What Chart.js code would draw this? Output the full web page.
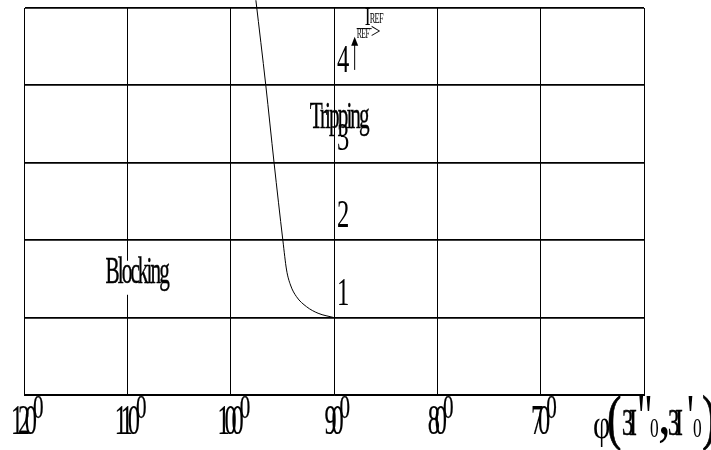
<!DOCTYPE html>
<html>
<head>
<meta charset="utf-8">
<script src="https://cdn.jsdelivr.net/npm/chart.js@4/dist/chart.umd.min.js"></script>
<style>
  html, body { margin: 0; padding: 0; background: #fff; }
  #wrap { width: 711px; height: 450px; }
</style>
</head>
<body>
<div id="wrap"><canvas id="chart" width="711" height="450"></canvas></div>
<script>
// angle axis (degrees), drawn right to left
const xTicks = [120, 110, 100, 90, 80, 70];
const xTickLabels = ['120', '110', '100', '90', '80', '70'];
// ratio axis
const yTicks = [1, 2, 3, 4];
const yTickLabels = ['1', '2', '3', '4'];

// boundary between blocking and tripping
const curveAngle = [97.56, 96.6, 95.8, 94.95, 94.59, 94.21, 93.63, 92.66, 91.54, 90.0];
const curveRatio = [5.1, 4.0, 3.0, 2.0, 1.615, 1.421, 1.27, 1.141, 1.056, 1.0];

const FONT = '"Liberation Serif", "Times New Roman", serif';

// narrow serif text, the way the old plot software rendered it
function squish(ctx, text, x, y, size, sx, spacing, align, heavy) {
  ctx.save();
  ctx.font = size + 'px ' + FONT;
  ctx.letterSpacing = (spacing || 0) + 'px';
  ctx.textBaseline = 'alphabetic';
  ctx.textAlign = 'left';
  let w = ctx.measureText(text).width * sx;
  if (spacing) w -= spacing * sx; // no trailing gap
  let left = x;
  if (align === 'center') left = x - w / 2;
  if (align === 'right') left = x - w;
  ctx.translate(left, y);
  ctx.scale(sx, 1);
  ctx.fillStyle = '#000';
  ctx.fillText(text, 0, 0);
  if (heavy) {
    ctx.strokeStyle = '#000';
    ctx.lineWidth = heavy;
    ctx.strokeText(text, 0, 0);
  }
  ctx.restore();
  return { left: left, right: left + w };
}

const labelsPlugin = {
  id: 'labels',
  afterDraw(chart) {
    const ctx = chart.ctx;
    const xs = chart.scales.x, ys = chart.scales.y;
    const area = chart.chartArea;

    // degree tick labels under the grid
    xTicks.forEach((v, i) => {
      const px = xs.getPixelForValue(v);
      const r = squish(ctx, xTickLabels[i], px, area.bottom + 39, 42, 0.58, -9, 'center', 0.2);
      squish(ctx, '0', r.right - 4, area.bottom + 23, 33, 0.64, 0, null, 0.3);
    });

    // ratio labels next to the 90 degree line
    const x90 = xs.getPixelForValue(90);
    yTicks.forEach((v, i) => {
      squish(ctx, yTickLabels[i], x90 + 3, ys.getPixelForValue(v) - 13, 41, 0.6, 0);
    });

    // region names
    const bx = xs.getPixelForValue(109), by = ys.getPixelForValue(1.45);
    ctx.save();
    ctx.fillStyle = '#fff';
    ctx.fillRect(bx - 35, by - 22, 70, 34);
    ctx.restore();
    squish(ctx, 'Blocking', bx, by, 38, 0.56, -3.5, 'center', 0.4);
    squish(ctx, 'Tripping', xs.getPixelForValue(89.45), ys.getPixelForValue(3.45), 38, 0.56, -3.5, 'center', 0.4);

    // reference current arrow
    const ax = xs.getPixelForValue(88);
    const a0 = ys.getPixelForValue(4.2), a1 = ys.getPixelForValue(4.63);
    ctx.save();
    ctx.strokeStyle = '#000';
    ctx.fillStyle = '#000';
    ctx.lineWidth = 1;
    ctx.beginPath();
    ctx.moveTo(ax, a0);
    ctx.lineTo(ax, a1 + 6);
    ctx.stroke();
    ctx.beginPath();
    ctx.moveTo(ax, a1);
    ctx.lineTo(ax - 3.5, a1 + 9);
    ctx.lineTo(ax + 3.5, a1 + 9);
    ctx.closePath();
    ctx.fill();
    ctx.beginPath();
    ctx.moveTo(ax + 2, a1 - 8);
    ctx.lineTo(ax + 17, a1 - 8);
    ctx.stroke();
    ctx.restore();
    squish(ctx, 'I', ax + 10, a1 - 12, 25, 0.7, 0);
    squish(ctx, 'REF', ax + 15, a1 - 14, 15, 0.55, -1);
    squish(ctx, 'REF', ax + 2, a1 + 1, 14, 0.55, -1);
    squish(ctx, '>', ax + 16, a1 + 1, 22, 0.8, 0);

    // axis title at the right end
    const tx = area.right - 51, tb = area.bottom;
    squish(ctx, '\u03C6', tx, tb + 43, 40, 0.75, 0);
    squish(ctx, '(', tx + 14, tb + 43, 62, 0.7, 0, null, 0.8);
    squish(ctx, '3I', tx + 29, tb + 40, 38, 0.6, -7, null, 0.6);
    squish(ctx, '"', tx + 44, tb + 43, 64, 0.6, 0);
    squish(ctx, '0', tx + 57, tb + 42, 28, 0.62, 0);
    squish(ctx, ',', tx + 65, tb + 39, 64, 0.8, 0);
    squish(ctx, '3I', tx + 75, tb + 40, 38, 0.6, -7, null, 0.6);
    squish(ctx, "'", tx + 94, tb + 43, 64, 0.6, 0);
    squish(ctx, '0', tx + 100, tb + 42, 28, 0.62, 0);
    squish(ctx, ')', tx + 109, tb + 43, 62, 0.7, 0, null, 0.8);
  }
};

const ctx = document.getElementById('chart').getContext('2d');
const chart = new Chart(ctx, {
  type: 'scatter',
  data: {
    datasets: [{
      data: curveAngle.map((a, i) => ({ x: a, y: curveRatio[i] })),
      showLine: true,
      borderColor: '#000',
      borderWidth: 1,
      pointRadius: 0,
      cubicInterpolationMode: 'monotone',
      clip: false
    }]
  },
  options: {
    responsive: false,
    animation: false,
    layout: { padding: { left: 24, right: 67, top: 8, bottom: 55 } },
    plugins: { legend: { display: false }, tooltip: { enabled: false } },
    scales: {
      x: {
        type: 'linear',
        min: 60,
        max: 120,
        reverse: true,
        ticks: { display: false, stepSize: 10 },
        grid: { color: '#000', lineWidth: 1, drawTicks: false },
        border: { color: '#000', width: 1 }
      },
      y: {
        min: 0,
        max: 5,
        ticks: { display: false, stepSize: 1 },
        grid: { color: '#000', lineWidth: 1.8, drawTicks: false },
        border: { color: '#000', width: 1 }
      }
    }
  },
  plugins: [labelsPlugin]
});
</script>
</body>
</html>
